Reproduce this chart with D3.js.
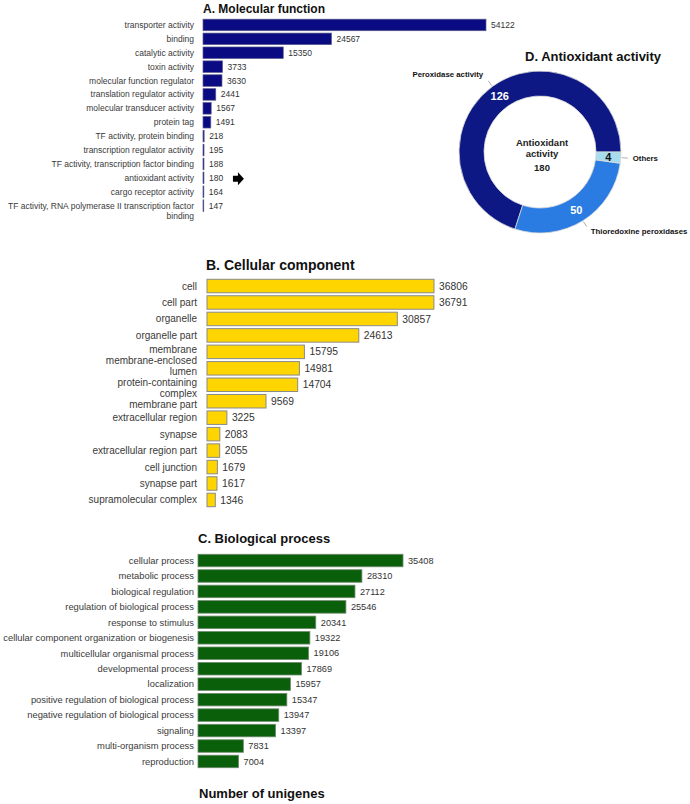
<!DOCTYPE html>
<html>
<head>
<meta charset="utf-8">
<script src="https://cdn.jsdelivr.net/npm/d3@7/dist/d3.min.js"></script>
<style>
  body { margin: 0; background: #fff; }
  svg { display: block; font-family: "Liberation Sans", Arial, sans-serif; }
</style>
</head>
<body>
<svg id="chart" width="690" height="804"></svg>
<script>
'use strict';

// A. Molecular function
const mfLabels = [
    'transporter activity', 'binding', 'catalytic activity', 'toxin activity',
    'molecular function regulator', 'translation regulator activity',
    'molecular transducer activity', 'protein tag', 'TF activity, protein binding',
    'transcription regulator activity', 'TF activity, transcription factor binding',
    'antioxidant activity', 'cargo receptor activity',
    'TF activity, RNA polymerase II transcription factor\nbinding'
];
const mfValues = [54122, 24567, 15350, 3733, 3630, 2441, 1567, 1491, 218, 195, 188, 180, 164, 147];

// B. Cellular component
const ccLabels = [
    'cell', 'cell part', 'organelle', 'organelle part', 'membrane',
    'membrane-enclosed\nlumen', 'protein-containing\ncomplex', 'membrane part',
    'extracellular region', 'synapse', 'extracellular region part', 'cell junction',
    'synapse part', 'supramolecular complex'
];
const ccValues = [36806, 36791, 30857, 24613, 15795, 14981, 14704, 9569, 3225, 2083, 2055, 1679, 1617, 1346];

// C. Biological process
const bpLabels = [
    'cellular process', 'metabolic process', 'biological regulation',
    'regulation of biological process', 'response to stimulus',
    'cellular component organization or biogenesis', 'multicellular organismal process',
    'developmental process', 'localization', 'positive regulation of biological process',
    'negative regulation of biological process', 'signaling', 'multi-organism process',
    'reproduction'
];
const bpValues = [35408, 28310, 27112, 25546, 20341, 19322, 19106, 17869, 15957, 15347, 13947, 13397, 7831, 7004];

// D. Antioxidant activity
const aoLabels = ['Peroxidase activity', 'Thioredoxine peroxidases', 'Others'];
const aoValues = [126, 50, 4];
const aoTotal = 180;

const svg = d3.select('#chart');
svg.append('rect').attr('width', 690).attr('height', 804).attr('fill', '#fff');

// push wrapped label blocks apart so they don't overlap
function spreadLabels(labels, y, lineH, centerWrap) {
    const blocks = labels.map(l => {
        const n = l.split('\n').length;
        const c = y(l) + y.bandwidth() / 2;
        const first = centerWrap ? -(n - 1) * lineH / 2 : 0;
        return { c, first, h: n * lineH, shift: 0 };
    });
    const top = b => b.c + b.shift + b.first - lineH / 2;
    const bot = b => top(b) + b.h;
    for (let k = 0; k < 40; k++) {
        for (let i = 0; i < blocks.length - 1; i++) {
            const over = bot(blocks[i]) - top(blocks[i + 1]);
            if (over > 0) {
                blocks[i].shift -= over / 2;
                blocks[i + 1].shift += over / 2;
            }
        }
    }
    return blocks.map(b => b.first + b.shift);
}

function drawBars(opt) {
    const g = svg.append('g');

    const x = d3.scaleLinear()
        .domain([0, opt.max])
        .range([opt.left, opt.right]);

    const y = d3.scaleBand()
        .domain(opt.labels)
        .range([opt.top, opt.bottom])
        .paddingInner(opt.pad)
        .paddingOuter(opt.pad / 2);

    const rows = opt.labels.map((l, i) => ({ label: l, value: opt.values[i] }));

    g.append('g')
        .selectAll('rect')
        .data(rows)
        .join('rect')
            .attr('x', x(0))
            .attr('y', d => y(d.label))
            .attr('width', d => x(d.value) - x(0))
            .attr('height', y.bandwidth())
            .attr('fill', opt.color)
            .attr('stroke', opt.stroke)
            .attr('stroke-width', opt.strokeWidth);

    // value labels
    g.append('g')
        .selectAll('text')
        .data(rows)
        .join('text')
            .attr('x', d => x(d.value) + opt.valueGap)
            .attr('y', d => y(d.label) + y.bandwidth() / 2)
            .attr('dy', '0.35em')
            .attr('font-size', opt.valueSize)
            .attr('fill', '#333')
            .text(d => d.value);

    // category axis
    const offs = spreadLabels(opt.labels, y, opt.lineH, opt.centerWrap);
    const axis = g.append('g')
        .attr('transform', `translate(${x(0)},0)`)
        .call(d3.axisLeft(y).tickSize(0).tickPadding(opt.labelPad));
    axis.select('.domain').remove();
    axis.selectAll('text')
        .attr('font-size', opt.labelSize)
        .attr('font-family', '"Liberation Sans", Arial, sans-serif')
        .attr('fill', '#3a3a3a')
        .each(function (d, i) {
            const lines = d.split('\n');
            const t = d3.select(this).text(null).attr('dy', null);
            lines.forEach((ln, j) => {
                t.append('tspan')
                    .attr('x', -opt.labelPad)
                    .attr('y', offs[i] + j * opt.lineH)
                    .attr('dy', '0.35em')
                    .text(ln);
            });
        });

    // title
    svg.append('text')
        .attr('x', opt.titleX)
        .attr('y', opt.titleY)
        .attr('font-size', opt.titleSize)
        .attr('font-weight', 'bold')
        .attr('fill', '#111')
        .text(opt.title);

    return { x, y };
}

const mf = drawBars({
    labels: mfLabels, values: mfValues, max: 54122,
    left: 203, right: 486, top: 18, bottom: 212.6, pad: 0.17,
    color: '#0a0a82', stroke: '#5c5c8c', strokeWidth: 0.7,
    valueGap: 5, valueSize: 8.5, labelSize: 8.5, labelPad: 9, lineH: 10, centerWrap: false,
    title: 'A. Molecular function', titleX: 203, titleY: 13, titleSize: 12
});

drawBars({
    labels: ccLabels, values: ccValues, max: 36806,
    left: 207, right: 434, top: 277.8, bottom: 508.2, pad: 0.18,
    color: '#ffd500', stroke: '#8a8a8a', strokeWidth: 1,
    valueGap: 5, valueSize: 10.3, labelSize: 10, labelPad: 10, lineH: 11, centerWrap: true,
    title: 'B. Cellular component', titleX: 206, titleY: 270, titleSize: 14
});

drawBars({
    labels: bpLabels, values: bpValues, max: 35408,
    left: 198, right: 403, top: 552.8, bottom: 769.2, pad: 0.19,
    color: '#0a600a', stroke: '#6f8a6f', strokeWidth: 0.8,
    valueGap: 5, valueSize: 9.2, labelSize: 9.4, labelPad: 4, lineH: 10, centerWrap: true,
    title: 'C. Biological process', titleX: 198, titleY: 543, titleSize: 13
});

svg.append('text')
    .attr('x', 199)
    .attr('y', 798)
    .attr('font-size', 13)
    .attr('font-weight', 'bold')
    .attr('fill', '#111')
    .text('Number of unigenes');

// arrow pointing at antioxidant activity
const ay = mf.y('antioxidant activity') + mf.y.bandwidth() / 2 + 1;
const ax = mf.x(180) + 29;
svg.append('path')
    .attr('d', `M${ax},${ay - 3} L${ax + 5},${ay - 3} L${ax + 5},${ay - 6.5} L${ax + 11},${ay} L${ax + 5},${ay + 6.5} L${ax + 5},${ay + 3} L${ax},${ay + 3} Z`)
    .attr('fill', '#000');

// D. donut
const cx = 540, cy = 152, rOut = 81, rIn = 56;
const aoColors = ['#0d1884', '#2b7ce2', '#a8dcef'];
const aoText = ['#fff', '#fff', '#111'];

const pie = d3.pie()
    .sort(null)
    .startAngle(Math.PI / 2)
    .endAngle(Math.PI / 2 - 2 * Math.PI);
const arcs = pie(aoValues);
const arc = d3.arc().innerRadius(rIn).outerRadius(rOut);

const dg = svg.append('g').attr('transform', `translate(${cx},${cy})`);

dg.selectAll('path')
    .data(arcs)
    .join('path')
        .attr('d', arc)
        .attr('fill', (d, i) => aoColors[i])
        .attr('stroke', '#d8d8d8')
        .attr('stroke-width', 0.8);

dg.selectAll('text.val')
    .data(arcs)
    .join('text')
        .attr('class', 'val')
        .attr('transform', d => `translate(${arc.centroid(d)})`)
        .attr('text-anchor', 'middle')
        .attr('dy', '0.35em')
        .attr('font-size', 11)
        .attr('font-weight', 'bold')
        .attr('fill', (d, i) => aoText[i])
        .text(d => d.value);

// leader lines and outer labels
const midA = d => (d.startAngle + d.endAngle) / 2;
const pt = (a, r) => [r * Math.sin(a), -r * Math.cos(a)];

dg.selectAll('line.lead')
    .data(arcs)
    .join('line')
        .attr('class', 'lead')
        .attr('x1', d => pt(midA(d), rOut + 1)[0])
        .attr('y1', d => pt(midA(d), rOut + 1)[1])
        .attr('x2', d => pt(midA(d), rOut + 7)[0])
        .attr('y2', d => pt(midA(d), rOut + 7)[1])
        .attr('stroke', '#999')
        .attr('stroke-width', 0.8);

dg.selectAll('text.lab')
    .data(arcs)
    .join('text')
        .attr('class', 'lab')
        .attr('x', d => {
            const p = pt(midA(d), rOut + 9);
            return Math.sin(midA(d)) < 0 ? p[0] - 4 : p[0] + 3;
        })
        .attr('y', d => {
            const c = Math.cos(midA(d));
            const p = pt(midA(d), rOut + 9);
            return c > 0 ? p[1] - 5 : p[1] - 3 * c;
        })
        .attr('dy', '0.35em')
        .attr('text-anchor', d => Math.sin(midA(d)) < 0 ? 'end' : 'start')
        .attr('font-size', 7.8)
        .attr('font-weight', 'bold')
        .attr('fill', '#111')
        .text((d, i) => aoLabels[i]);

// centre text
const ct = dg.append('g')
    .attr('text-anchor', 'middle')
    .attr('font-size', 9.5)
    .attr('font-weight', 'bold')
    .attr('fill', '#222');
ct.append('text').attr('x', 2).attr('y', -9).attr('dy', '0.35em').text('Antioxidant');
ct.append('text').attr('x', 2).attr('y', 2).attr('dy', '0.35em').text('activity');
ct.append('text').attr('x', 2).attr('y', 16).attr('dy', '0.35em').text(aoTotal);

svg.append('text')
    .attr('x', 525)
    .attr('y', 60.5)
    .attr('font-size', 13)
    .attr('font-weight', 'bold')
    .attr('fill', '#111')
    .text('D. Antioxidant activity');
</script>
</body>
</html>
